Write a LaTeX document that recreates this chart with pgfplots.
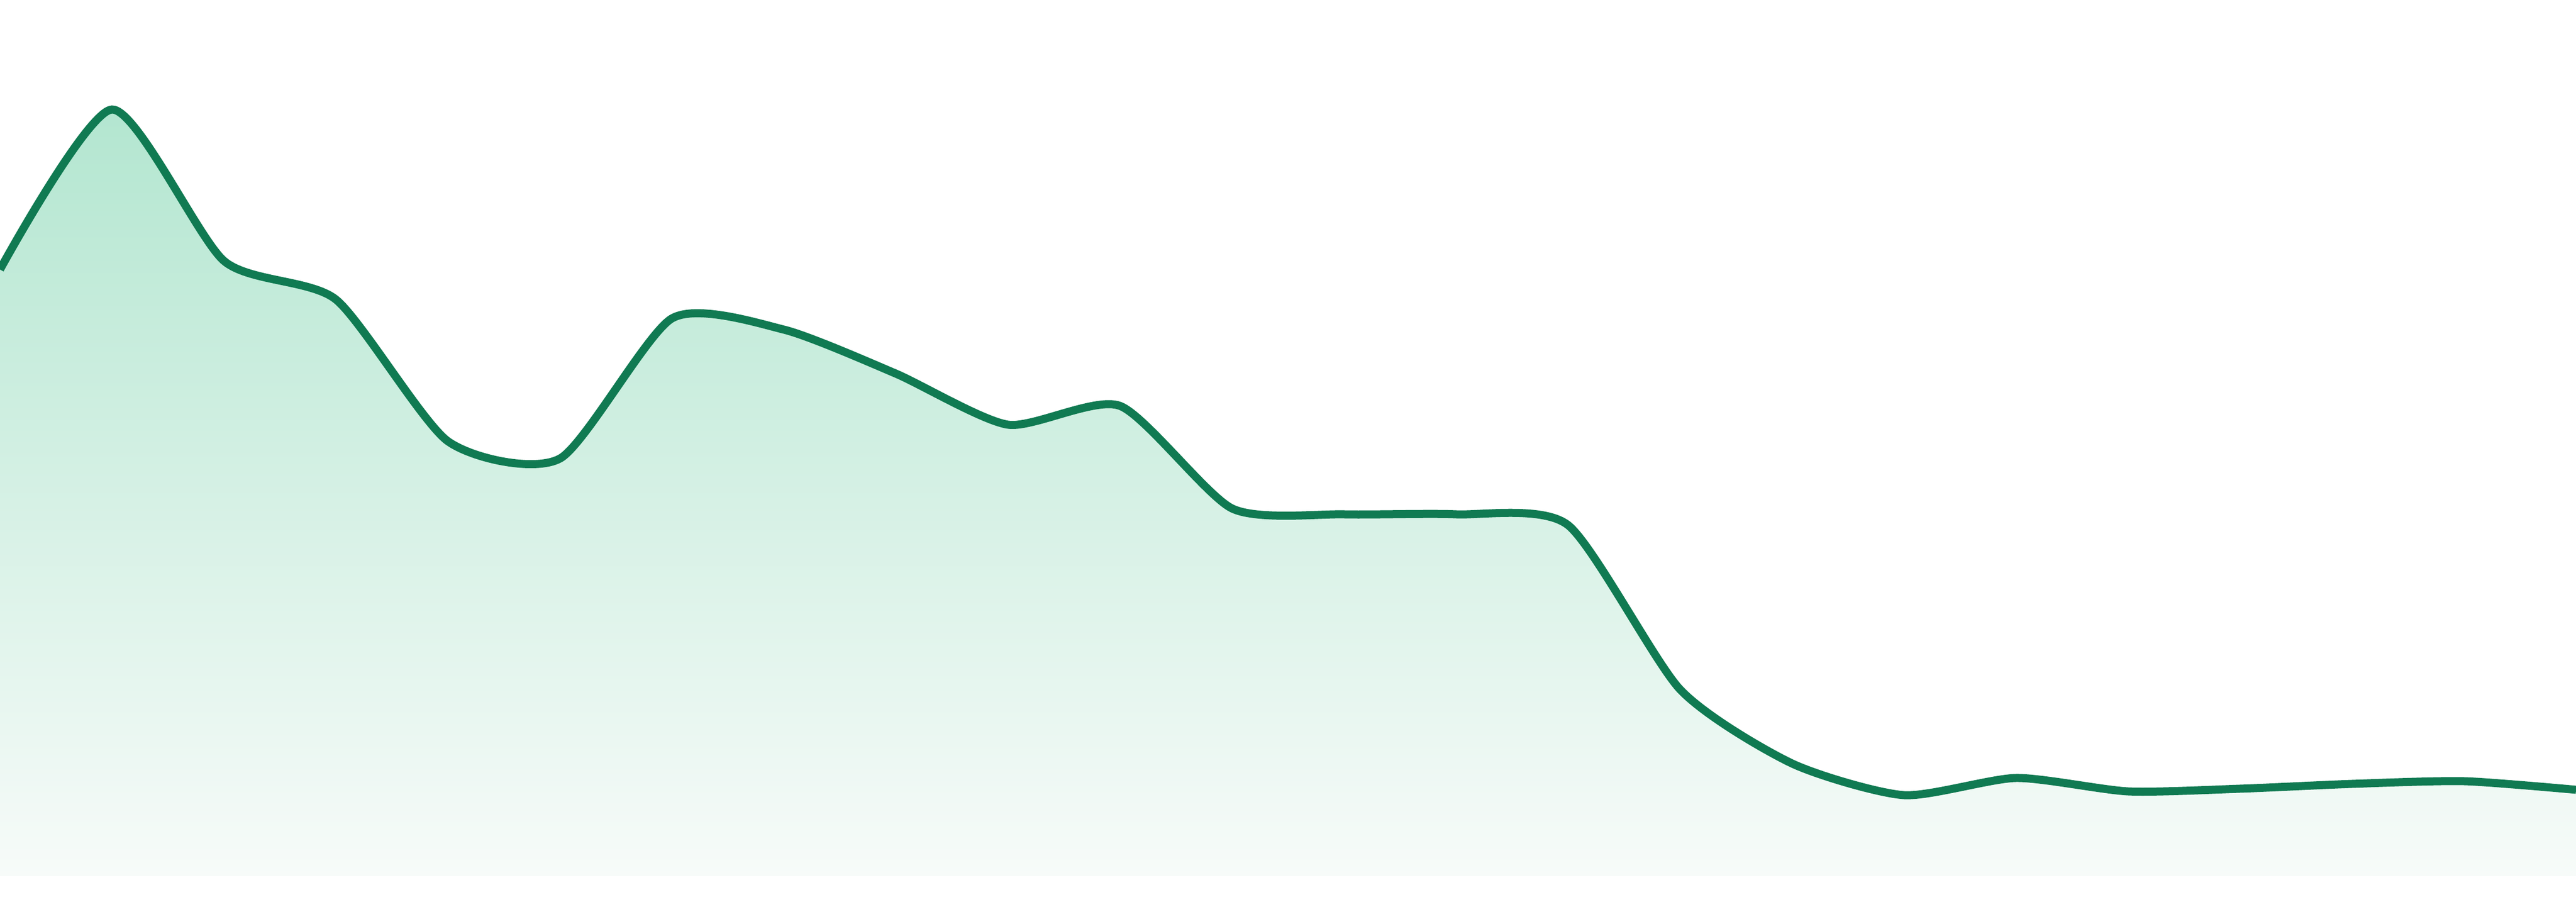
\documentclass[border=0pt]{standalone}
\usepackage{pgfplots}
\pgfplotsset{compat=1.18}
\definecolor{linegreen}{RGB}{16,122,82}
\definecolor{filltop}{RGB}{179,230,208}
\definecolor{fillbot}{RGB}{247,251,249}
\pgfplotstableread{
x y
0 1130
1 1428
2 1146
3 1074
4 810
5 778
6 1039
7 1018
8 936
9 841
10 876
11 685
12 674
13 674
14 654
15 348
16 210
17 151
18 183
19 158
20 163
21 172
22 177
23 161
}\series
\begin{document}
\begin{tikzpicture}
\begin{axis}[
  width=480pt, height=168pt, scale only axis,
  xmin=0, xmax=23, ymin=-48, ymax=1632,
  axis line style={draw=none},
  xtick=\empty, ytick=\empty,
]
\addplot[draw=none, top color=filltop, bottom color=fillbot, smooth, tension=0.4] table[x=x,y=y] {\series} \closedcycle;
\addplot[linegreen, line width=1.5pt, smooth, tension=0.4] table[x=x,y=y] {\series};
\end{axis}
\end{tikzpicture}
\end{document}
